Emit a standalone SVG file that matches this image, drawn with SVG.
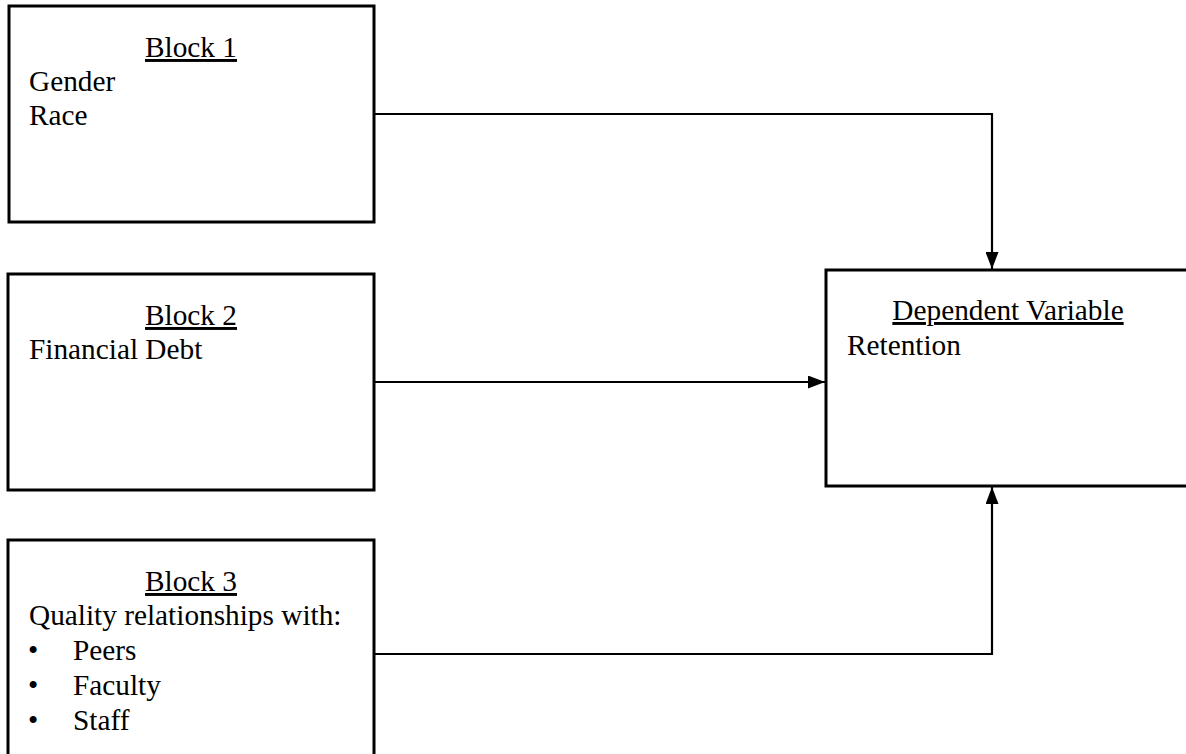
<svg xmlns="http://www.w3.org/2000/svg" width="1186" height="754" viewBox="0 0 1186 754">
<defs>
<style>
.box{fill:#fff;stroke:#000;stroke-width:3}
.t{font-family:"Liberation Serif","Times New Roman",serif;font-size:29.3px;fill:#000}
.u{text-decoration:underline}
.c{fill:none;stroke:#000;stroke-width:2.2}
</style>
<marker id="ah" viewBox="0 0 17 13" refX="17" refY="6.5" markerWidth="17" markerHeight="13" markerUnits="userSpaceOnUse" orient="auto">
<path d="M0,0 L17,6.5 L0,13 z" fill="#000"/>
</marker>
</defs>
<rect width="1186" height="754" fill="#fff"/>
<g id="block1">
<rect class="box" x="9" y="6" width="365" height="216"/>
<text class="t u" x="191" y="57" text-anchor="middle">Block 1</text>
<text class="t" x="29" y="91">Gender</text>
<text class="t" x="29" y="125">Race</text>
</g>
<g id="block2">
<rect class="box" x="8" y="274" width="366" height="216"/>
<text class="t u" x="191" y="325" text-anchor="middle">Block 2</text>
<text class="t" x="29" y="359">Financial Debt</text>
</g>
<g id="block3">
<rect class="box" x="8" y="540" width="366" height="230"/>
<text class="t u" x="191" y="591" text-anchor="middle">Block 3</text>
<text class="t" x="29" y="625">Quality relationships with:</text>
<text class="t" x="28" y="660">•</text>
<text class="t" x="73" y="660">Peers</text>
<text class="t" x="28" y="695">•</text>
<text class="t" x="73" y="695">Faculty</text>
<text class="t" x="28" y="730">•</text>
<text class="t" x="73" y="730">Staff</text>
</g>
<g id="dependent">
<rect class="box" x="826" y="270" width="380" height="216"/>
<text class="t u" x="1008" y="320" text-anchor="middle">Dependent Variable</text>
<text class="t" x="847" y="355">Retention</text>
</g>
<g id="connectors">
<path class="c" d="M374,114 H992 V269" marker-end="url(#ah)"/>
<path class="c" d="M374,382 H825" marker-end="url(#ah)"/>
<path class="c" d="M374,654 H992 V487" marker-end="url(#ah)"/>
</g>
</svg>
